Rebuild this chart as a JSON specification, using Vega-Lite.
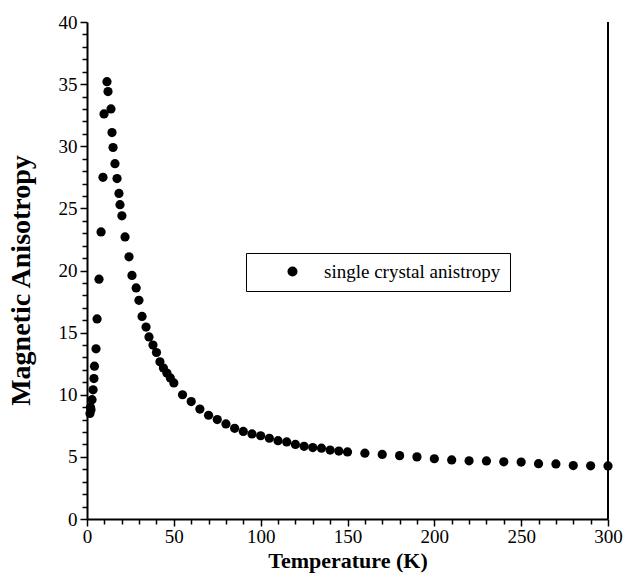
{
  "$schema": "https://vega.github.io/schema/vega-lite/v6.json",
  "width": 521,
  "height": 497,
  "autosize": {"type": "none"},
  "padding": {"left": 87, "top": 22, "right": 18, "bottom": 59},
  "background": "white",
  "config": {
    "view": {"stroke": null},
    "font": "Liberation Serif",
    "axis": {
      "labelFont": "Liberation Serif",
      "titleFont": "Liberation Serif",
      "labelFontSize": 19,
      "titleFontSize": 22,
      "titleFontWeight": "bold",
      "labelColor": "black",
      "titleColor": "black",
      "domainColor": "black",
      "tickColor": "black",
      "domainWidth": 2,
      "tickWidth": 1.5,
      "labelOverlap": false,
      "labelFlush": false,
      "grid": false
    }
  },
  "data": {
    "values": [
      {"T": 1.7, "A": 8.5, "s": "single crystal anistropy"},
      {"T": 2.0, "A": 9.0, "s": "single crystal anistropy"},
      {"T": 2.3, "A": 8.8, "s": "single crystal anistropy"},
      {"T": 2.9, "A": 9.6, "s": "single crystal anistropy"},
      {"T": 3.5, "A": 10.4, "s": "single crystal anistropy"},
      {"T": 4.0, "A": 11.3, "s": "single crystal anistropy"},
      {"T": 4.3, "A": 12.3, "s": "single crystal anistropy"},
      {"T": 5.2, "A": 13.7, "s": "single crystal anistropy"},
      {"T": 5.8, "A": 16.1, "s": "single crystal anistropy"},
      {"T": 6.9, "A": 19.3, "s": "single crystal anistropy"},
      {"T": 8.1, "A": 23.1, "s": "single crystal anistropy"},
      {"T": 9.2, "A": 27.5, "s": "single crystal anistropy"},
      {"T": 9.8, "A": 32.6, "s": "single crystal anistropy"},
      {"T": 11.5, "A": 35.2, "s": "single crystal anistropy"},
      {"T": 12.1, "A": 34.4, "s": "single crystal anistropy"},
      {"T": 13.8, "A": 33.0, "s": "single crystal anistropy"},
      {"T": 14.4, "A": 31.1, "s": "single crystal anistropy"},
      {"T": 15.0, "A": 29.9, "s": "single crystal anistropy"},
      {"T": 16.1, "A": 28.6, "s": "single crystal anistropy"},
      {"T": 17.3, "A": 27.4, "s": "single crystal anistropy"},
      {"T": 18.4, "A": 26.2, "s": "single crystal anistropy"},
      {"T": 19.0, "A": 25.3, "s": "single crystal anistropy"},
      {"T": 20.1, "A": 24.4, "s": "single crystal anistropy"},
      {"T": 21.9, "A": 22.7, "s": "single crystal anistropy"},
      {"T": 24.2, "A": 21.1, "s": "single crystal anistropy"},
      {"T": 25.9, "A": 19.6, "s": "single crystal anistropy"},
      {"T": 28.3, "A": 18.6, "s": "single crystal anistropy"},
      {"T": 29.9, "A": 17.6, "s": "single crystal anistropy"},
      {"T": 31.7, "A": 16.3, "s": "single crystal anistropy"},
      {"T": 34.0, "A": 15.45, "s": "single crystal anistropy"},
      {"T": 35.7, "A": 14.65, "s": "single crystal anistropy"},
      {"T": 38.0, "A": 14.0, "s": "single crystal anistropy"},
      {"T": 40.0, "A": 13.4, "s": "single crystal anistropy"},
      {"T": 42.0, "A": 12.65, "s": "single crystal anistropy"},
      {"T": 44.0, "A": 12.15, "s": "single crystal anistropy"},
      {"T": 46.0, "A": 11.75, "s": "single crystal anistropy"},
      {"T": 48.0, "A": 11.35, "s": "single crystal anistropy"},
      {"T": 50.0, "A": 10.95, "s": "single crystal anistropy"},
      {"T": 55.0, "A": 10.0, "s": "single crystal anistropy"},
      {"T": 60.0, "A": 9.45, "s": "single crystal anistropy"},
      {"T": 65.0, "A": 8.85, "s": "single crystal anistropy"},
      {"T": 70.0, "A": 8.35, "s": "single crystal anistropy"},
      {"T": 75.0, "A": 8.0, "s": "single crystal anistropy"},
      {"T": 80.0, "A": 7.65, "s": "single crystal anistropy"},
      {"T": 85.0, "A": 7.3, "s": "single crystal anistropy"},
      {"T": 90.0, "A": 7.05, "s": "single crystal anistropy"},
      {"T": 95.0, "A": 6.85, "s": "single crystal anistropy"},
      {"T": 100.0, "A": 6.7, "s": "single crystal anistropy"},
      {"T": 105.0, "A": 6.5, "s": "single crystal anistropy"},
      {"T": 110.0, "A": 6.3, "s": "single crystal anistropy"},
      {"T": 115.0, "A": 6.2, "s": "single crystal anistropy"},
      {"T": 120.0, "A": 6.0, "s": "single crystal anistropy"},
      {"T": 125.0, "A": 5.85, "s": "single crystal anistropy"},
      {"T": 130.0, "A": 5.75, "s": "single crystal anistropy"},
      {"T": 135.0, "A": 5.7, "s": "single crystal anistropy"},
      {"T": 140.0, "A": 5.55, "s": "single crystal anistropy"},
      {"T": 145.0, "A": 5.47, "s": "single crystal anistropy"},
      {"T": 150.0, "A": 5.4, "s": "single crystal anistropy"},
      {"T": 160.0, "A": 5.3, "s": "single crystal anistropy"},
      {"T": 170.0, "A": 5.2, "s": "single crystal anistropy"},
      {"T": 180.0, "A": 5.1, "s": "single crystal anistropy"},
      {"T": 190.0, "A": 5.0, "s": "single crystal anistropy"},
      {"T": 200.0, "A": 4.85, "s": "single crystal anistropy"},
      {"T": 210.0, "A": 4.75, "s": "single crystal anistropy"},
      {"T": 220.0, "A": 4.68, "s": "single crystal anistropy"},
      {"T": 230.0, "A": 4.67, "s": "single crystal anistropy"},
      {"T": 240.0, "A": 4.6, "s": "single crystal anistropy"},
      {"T": 250.0, "A": 4.58, "s": "single crystal anistropy"},
      {"T": 260.0, "A": 4.45, "s": "single crystal anistropy"},
      {"T": 270.0, "A": 4.43, "s": "single crystal anistropy"},
      {"T": 280.0, "A": 4.3, "s": "single crystal anistropy"},
      {"T": 290.0, "A": 4.28, "s": "single crystal anistropy"},
      {"T": 300.0, "A": 4.27, "s": "single crystal anistropy"}
    ]
  },
  "layer": [
    {
      "mark": {"type": "point", "filled": true, "size": 85, "opacity": 1},
      "encoding": {
        "x": {
          "field": "T",
          "type": "quantitative",
          "scale": {"domain": [0, 300], "nice": false, "zero": false},
          "axis": {
            "title": "Temperature (K)",
            "values": [0,10,20,30,40,50,60,70,80,90,100,110,120,130,140,150,160,170,180,190,200,210,220,230,240,250,260,270,280,290,300],
            "labelExpr": "datum.value % 50 === 0 ? datum.label : ''",
            "tickSize": {"condition": {"test": "datum.value % 50 === 0", "value": 7}, "value": 5},
            "labelPadding": 1,
            "titlePadding": 4
          }
        },
        "y": {
          "field": "A",
          "type": "quantitative",
          "scale": {"domain": [0, 40], "nice": false},
          "axis": {
            "title": "Magnetic Anisotropy",
            "titleFontSize": 28,
            "titleX": -52,
            "titleY": 258,
            "values": [0,1,2,3,4,5,6,7,8,9,10,11,12,13,14,15,16,17,18,19,20,21,22,23,24,25,26,27,28,29,30,31,32,33,34,35,36,37,38,39,40],
            "labelExpr": "datum.value % 5 === 0 ? datum.label : ''",
            "tickSize": {"condition": {"test": "datum.value % 5 === 0", "value": 7}, "value": 5},
            "labelPadding": 3
          }
        },
        "color": {
          "field": "s",
          "type": "nominal",
          "scale": {"range": ["black"]},
          "legend": {
            "title": null,
            "orient": "none",
            "legendX": 159,
            "legendY": 231,
            "direction": "vertical",
            "strokeColor": "black",
            "fillColor": "white",
            "padding": 9,
            "symbolOffset": 28,
            "symbolSize": 100,
            "symbolType": "circle",
            "labelOffset": 22,
            "labelFont": "Liberation Serif",
            "labelFontSize": 19,
            "labelColor": "black",
            "labelLimit": 400,
            "encode": {"legend": {"update": {"strokeWidth": {"value": 2}}}}
          }
        }
      }
    },
    {
      "mark": {"type": "rule", "color": "black", "strokeWidth": 2},
      "encoding": {
        "x": {
          "datum": 300,
          "type": "quantitative",
          "axis": {
            "title": "Temperature (K)",
            "values": [0,10,20,30,40,50,60,70,80,90,100,110,120,130,140,150,160,170,180,190,200,210,220,230,240,250,260,270,280,290,300],
            "labelExpr": "datum.value % 50 === 0 ? datum.label : ''",
            "tickSize": {"condition": {"test": "datum.value % 50 === 0", "value": 7}, "value": 5},
            "labelPadding": 1,
            "titlePadding": 4
          }
        }
      }
    }
  ]
}
